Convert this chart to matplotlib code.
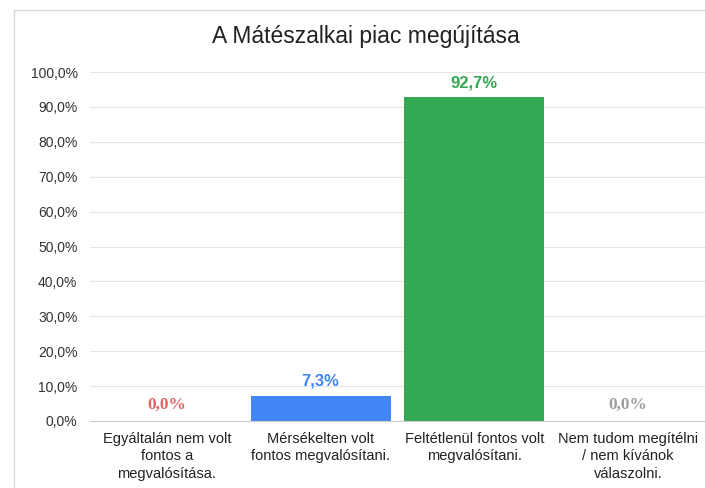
import numpy as np
import matplotlib.pyplot as plt
from matplotlib.patches import Rectangle

# adatok
categories = [
    "Egyáltalán nem volt\nfontos a\nmegvalósítása.",
    "Mérsékelten volt\nfontos megvalósítani.",
    "Feltétlenül fontos volt\nmegvalósítani.",
    "Nem tudom megítélni\n/ nem kívánok\nválaszolni.",
]
values = [0.0, 7.3, 92.7, 0.0]
bar_colors = ["#e06666", "#4285f4", "#34a853", "#9e9e9e"]
yticks = [0, 10, 20, 30, 40, 50, 60, 70, 80, 90, 100]
title = "A Mátészalkai piac megújítása"


def fmt(v):
    return f"{v:.1f}%".replace(".", ",")


def main():
    plt.rcParams['font.family'] = ['Liberation Sans', 'DejaVu Sans']
    fig = plt.figure(figsize=(7.05, 4.88), dpi=100)
    ax = fig.add_axes([90 / 705, 1 - 421 / 488, 1 - 90 / 705, (421 - 72) / 488])

    # keret a diagram körül
    fig.patches.append(Rectangle((14 / 705, -0.1), 1.2, 1 - 10 / 488 + 0.1,
                                 transform=fig.transFigure, fill=False,
                                 edgecolor="#d9d9d9", linewidth=1.0))

    x = np.arange(len(categories))
    ax.bar(x, values, width=0.91, color=bar_colors, zorder=3)
    ax.set_xlim(-0.5, len(categories) - 0.5)
    ax.set_ylim(0, 100)
    ax.set_yticks(yticks)
    ax.set_yticklabels([fmt(t) for t in yticks], fontsize=10, color="#333333")
    ax.set_xticks(x)
    ax.set_xticklabels(categories, fontsize=10.5, color="#222222", linespacing=1.3)
    ax.tick_params(axis='both', length=0)
    ax.tick_params(axis='y', pad=9)
    ax.tick_params(axis='x', pad=8)
    ax.grid(axis='y', color="#e6e6e6", linewidth=0.8, zorder=0)
    for s in ['top', 'right', 'left']:
        ax.spines[s].set_visible(False)
    ax.spines['bottom'].set_color("#cccccc")
    ax.spines['bottom'].set_zorder(4)

    for i, v in enumerate(values):
        if v == 0:
            ax.annotate(fmt(v), (x[i], v), xytext=(0, 6), textcoords='offset points',
                        ha='center', va='bottom', fontsize=12.5, fontweight='bold',
                        color=bar_colors[i], family=['Liberation Serif', 'DejaVu Serif'])
        else:
            ax.annotate(fmt(v), (x[i], v), xytext=(0, 5), textcoords='offset points',
                        ha='center', va='bottom', fontsize=12, fontweight='bold',
                        color=bar_colors[i])

    fig.text(366 / 705, 1 - 37 / 488, title, ha='center', va='center', fontsize=16.5,
             color="#222222")
    fig.savefig("out.png", dpi=100, facecolor="white")


if __name__ == '__main__':
    main()
